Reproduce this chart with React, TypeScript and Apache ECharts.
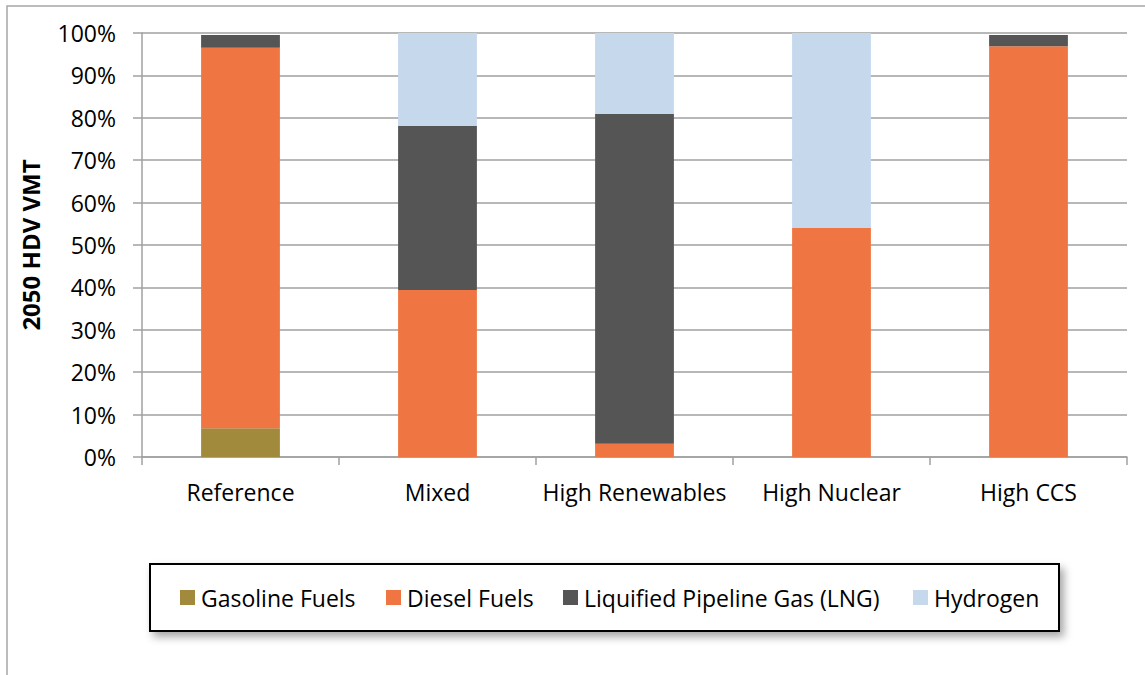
import React, { useEffect, useRef } from "react";
import * as echarts from "echarts";

const categories = ["Reference", "Mixed", "High Renewables", "High Nuclear", "High CCS"];
const gasoline = [6.8, 0, 0, 0, 0];
const diesel = [89.7, 39.4, 3.1, 54.0, 96.9];
const lng = [3.0, 38.7, 77.8, 0, 2.6];
const hydrogen = [0, 21.9, 19.1, 46.0, 0];
const seriesNames = ["Gasoline Fuels", "Diesel Fuels", "Liquified Pipeline Gas (LNG)", "Hydrogen"];
const yTicks = [0, 10, 20, 30, 40, 50, 60, 70, 80, 90, 100];

const colors = ["#A28A3C", "#EF7642", "#555555", "#C5D8EC"];
const FONT = "'Open Sans', sans-serif";
const legendLefts = [180, 386, 563, 913];

export default function App() {
  const ref = useRef<HTMLDivElement>(null);
  useEffect(() => {
    if (!ref.current) return;
    const chart = echarts.init(ref.current, undefined, { renderer: "svg" });
    const data = [gasoline, diesel, lng, hydrogen];
    chart.setOption({
      animation: false,
      backgroundColor: "#ffffff",
      textStyle: { fontFamily: FONT },
      grid: { left: 142, right: 18, top: 33, bottom: 218, containLabel: false },
      graphic: [
        {
          type: "rect",
          shape: { x: 7, y: 6, width: 1150, height: 680 },
          style: { fill: "none", stroke: "#A6A6A6", lineWidth: 1.5 },
          z: -1,
        },
        {
          type: "rect",
          shape: { x: 150, y: 564, width: 909, height: 67 },
          style: {
            fill: "#ffffff",
            stroke: "#000000",
            lineWidth: 2,
            shadowBlur: 8,
            shadowOffsetX: 4,
            shadowOffsetY: 5,
            shadowColor: "rgba(0,0,0,0.35)",
          },
          z: 0,
        },
      ],
      legend: seriesNames.map((name, i) => ({
        left: legendLefts[i],
        top: 586,
        padding: 0,
        itemWidth: 15,
        itemHeight: 15,
        icon: "rect",
        z: 10,
        textStyle: { fontSize: 23, color: "#000", fontFamily: FONT, padding: [0, 0, 0, 1] },
        data: [name],
      })),
      xAxis: {
        type: "category",
        data: categories,
        axisLine: { show: true, lineStyle: { color: "#A0A0A0", width: 1.5 } },
        axisTick: { show: true, length: 8, lineStyle: { color: "#A0A0A0", width: 1.5 } },
        axisLabel: { fontSize: 23, color: "#000", margin: 23, fontFamily: FONT, interval: 0 },
      },
      yAxis: {
        type: "value",
        min: 0,
        max: 100,
        interval: 10,
        name: "2050 HDV VMT",
        nameLocation: "middle",
        nameGap: 100,
        nameRotate: 90,
        nameTextStyle: { fontSize: 24, fontWeight: "bold", color: "#000", fontFamily: FONT },
        axisLine: { show: true, lineStyle: { color: "#A0A0A0", width: 1.5 } },
        axisTick: { show: true, inside: false, length: 9, lineStyle: { color: "#A0A0A0", width: 1.5 } },
        splitLine: { show: true, lineStyle: { color: "#A0A0A0", width: 1.5 } },
        axisLabel: {
          fontSize: 23,
          color: "#000",
          margin: 26,
          fontFamily: FONT,
          formatter: (v: number) => (yTicks.includes(v) ? v + "%" : ""),
        },
      },
      series: seriesNames.map((name, i) => ({
        name,
        type: "bar",
        stack: "total",
        barWidth: "40%",
        data: data[i],
        itemStyle: { color: colors[i] },
      })),
    });
    return () => chart.dispose();
  }, []);
  return (
    <div
      ref={ref}
      style={{ position: "absolute", left: 0, top: 0, width: 1145, height: 675 }}
    />
  );
}
